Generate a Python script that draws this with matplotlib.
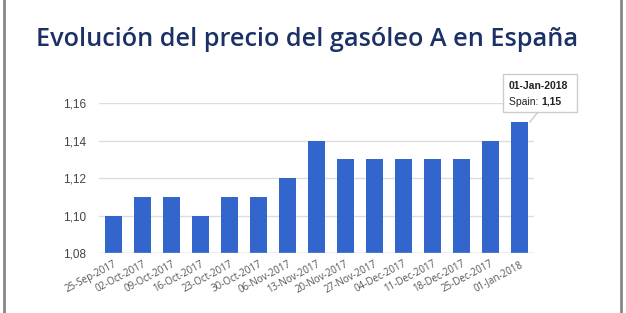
import matplotlib.pyplot as plt
from matplotlib.lines import Line2D

# datos: precio semanal del gasóleo A
fechas = ['25-Sep-2017', '02-Oct-2017', '09-Oct-2017', '16-Oct-2017', '23-Oct-2017',
          '30-Oct-2017', '06-Nov-2017', '13-Nov-2017', '20-Nov-2017', '27-Nov-2017',
          '04-Dec-2017', '11-Dec-2017', '18-Dec-2017', '25-Dec-2017', '01-Jan-2018']
precios = [1.10, 1.11, 1.11, 1.10, 1.11, 1.11, 1.12, 1.14, 1.13, 1.13,
           1.13, 1.13, 1.13, 1.14, 1.15]
y_ticks = [1.08, 1.10, 1.12, 1.14, 1.16]

plt.rcParams['font.family'] = ['Open Sans', 'DejaVu Sans']

fig = plt.figure(figsize=(6.26, 3.13), dpi=100)
ax = fig.add_axes([99/626, 1 - 253/313, 435/626, (253 - 103)/313])

x = list(range(len(fechas)))
ax.bar(x, precios, width=0.62, color='#3366cc', zorder=3)

ax.set_xlim(-0.5, len(fechas) - 0.5)
ax.set_ylim(1.08, 1.16)
ax.set_yticks(y_ticks)
ax.set_yticklabels([f'{v:.2f}'.replace('.', ',') for v in y_ticks],
                   fontsize=8.5, color='#444444', family=['Liberation Sans', 'DejaVu Sans'])
ax.set_xticks(x)
ax.set_xticklabels(fechas, rotation=28, ha='right', rotation_mode='anchor',
                   fontsize=7, color='#555555')
ax.tick_params(length=0, pad=9)
ax.tick_params(axis='x', pad=4)
ax.grid(axis='y', color='#dddddd', linewidth=1, zorder=0)
for s in ax.spines.values():
    s.set_visible(False)
ax.axhline(1.08, color='#cccccc', linewidth=1, zorder=4)

fig.text(0.491, 1 - 39/313, 'Evolución del precio del gasóleo A en España',
         ha='center', va='center', fontsize=18.2, fontweight='semibold', color='#1b3166')

# tooltip sobre la última barra
fig.add_artist(Line2D([530/626, 538/626], [1 - 122/313, 1 - 112/313],
                      color='#cccccc', linewidth=1, zorder=5))
box = plt.Rectangle((503/626, 1 - 112/313), 74/626, 38/313, transform=fig.transFigure,
                    facecolor='white', edgecolor='#cccccc', linewidth=1, zorder=6)
fig.patches.append(box)
tf = dict(family=['Liberation Sans', 'DejaVu Sans'], fontsize=7.5, color='#222222', zorder=7)
fig.text(509/626, 1 - 89/313, '01-Jan-2018', fontweight='bold', va='baseline', **tf)
fig.text(509/626, 1 - 105/313, 'Spain: ', va='baseline', **tf)
fig.text(541/626, 1 - 105/313, '1,15', fontweight='bold', va='baseline', **tf)

# marco lateral
fig.add_artist(Line2D([4/626, 4/626], [0, 1], color='#888888', linewidth=2))
fig.add_artist(Line2D([621/626, 621/626], [0, 1], color='#888888', linewidth=2))

fig.savefig('out.png', dpi=100)
